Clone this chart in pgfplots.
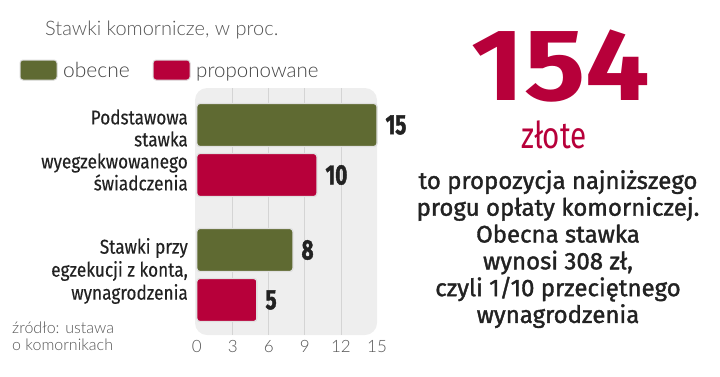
\documentclass[border=0pt]{standalone}
\usepackage{pgfplots}
\pgfplotsset{compat=1.18}
\usepackage{fontspec}
\setmainfont{Fira Sans}
\newfontfamily\lightf{Lato Light}
\newfontfamily\catf[FakeStretch=0.86,FakeBold=0.3]{Fira Sans}
\newfontfamily\medf[FakeBold=1.5]{Fira Sans}
\newfontfamily\valf[FakeStretch=0.74,FakeBold=1.5]{Fira Sans}
\newfontfamily\bigf[FakeStretch=1.12]{Fira Sans}
\newfontfamily\zlf[FakeStretch=0.8]{Fira Sans}
\definecolor{oliv}{HTML}{5F6A32}
\definecolor{crim}{HTML}{B7003A}
\definecolor{bgc}{HTML}{EEEEEE}
\definecolor{gridc}{HTML}{D4D4D4}
\definecolor{txt}{HTML}{222222}
\definecolor{lt}{HTML}{555555}
\begin{document}
\begin{tikzpicture}[x=1pt,y=1pt]
\useasboundingbox (0,0) rectangle (720,376);
\begin{axis}[
  at={(195pt,41pt)}, anchor=south west, scale only axis,
  width=182pt, height=247pt,
  xmin=-0.15, xmax=15, ymin=88, ymax=335, y dir=reverse,
  axis line style={draw=none}, major tick length=0pt,
  ytick=\empty,
  xtick={3,6,9,12}, extra x ticks={0,15},
  extra x tick style={grid=none},
  xmajorgrids, grid style={gridc, line width=0.9pt},
  axis background/.style={fill=bgc, rounded corners=12pt},
  /pgf/number format/assume math mode=true,
  xticklabel style={font=\lightf\fontsize{17}{17}\selectfont, text=lt, yshift=-2pt},
  clip=false,
  point meta=x,
  nodes near coords,
  every node near coord/.style={anchor=west, inner sep=0pt, xshift=8pt, font=\valf\bfseries\fontsize{28}{28}\selectfont, text=txt},
]
\addplot[xbar, bar width=43pt, bar shift=0pt, fill=oliv, draw=white!88!black, line width=1.3pt, rounded corners=3pt]
  coordinates {(15,125) (8,250)};
\addplot[xbar, bar width=43pt, bar shift=0pt, fill=crim, draw=white!88!black, line width=1.3pt, rounded corners=3pt]
  coordinates {(10,175) (5,300)};
\end{axis}
% title
\node[anchor=base west, inner sep=0pt, text=lt, font=\lightf\fontsize{20}{20}\selectfont] at (45,376-35) {Stawki komornicze, w proc.};
% legend
\fill[draw=white!85!black, line width=1pt, fill=oliv, rounded corners=3pt] (20,376-80) rectangle (57,376-60);
\node[anchor=base west, inner sep=0pt, text=txt!85, font=\lightf\fontsize{21}{21}\selectfont] at (63,376-77) {obecne};
\fill[draw=white!85!black, line width=1pt, fill=crim, rounded corners=3pt] (153,376-80) rectangle (190,376-60);
\node[anchor=base west, inner sep=0pt, text=txt!85, font=\lightf\fontsize{20.5}{21}\selectfont] at (196,376-77) {proponowane};
% category labels
\node[anchor=east, align=right, inner sep=0pt, text=txt, font=\catf\fontsize{20}{22}\selectfont] at (188,376-150) {Podstawowa\\stawka\\wyegzekwowanego\\świadczenia};
\node[anchor=east, align=right, inner sep=0pt, text=txt, font=\catf\fontsize{20}{23}\selectfont] at (188,376-271) {Stawki przy\\egzekucji z konta,\\wynagrodzenia};
% source
\node[anchor=north west, align=left, inner sep=0pt, text=lt, font=\lightf\fontsize{16}{17}\selectfont] at (12,376-322) {źródło: ustawa\\o komornikach};
% right text
\node[anchor=base, inner sep=0pt, text depth=0pt, text=crim, font=\bigf\bfseries\fontsize{102}{102}\selectfont] at (561,376-100) {154};
\node[anchor=base, inner sep=0pt, text height=27pt, text=crim, font=\zlf\fontsize{37}{37}\selectfont] at (554,376-148) {złote};
\node[anchor=north, align=center, inner sep=0pt, text=txt, font=\medf\fontsize{24}{26.8}\selectfont] at (558,376-170) {to propozycja najniższego\\progu opłaty komorniczej.\\Obecna stawka\\wynosi 308 zł,\\czyli 1/10 przeciętnego\\wynagrodzenia};
\end{tikzpicture}
\end{document}
